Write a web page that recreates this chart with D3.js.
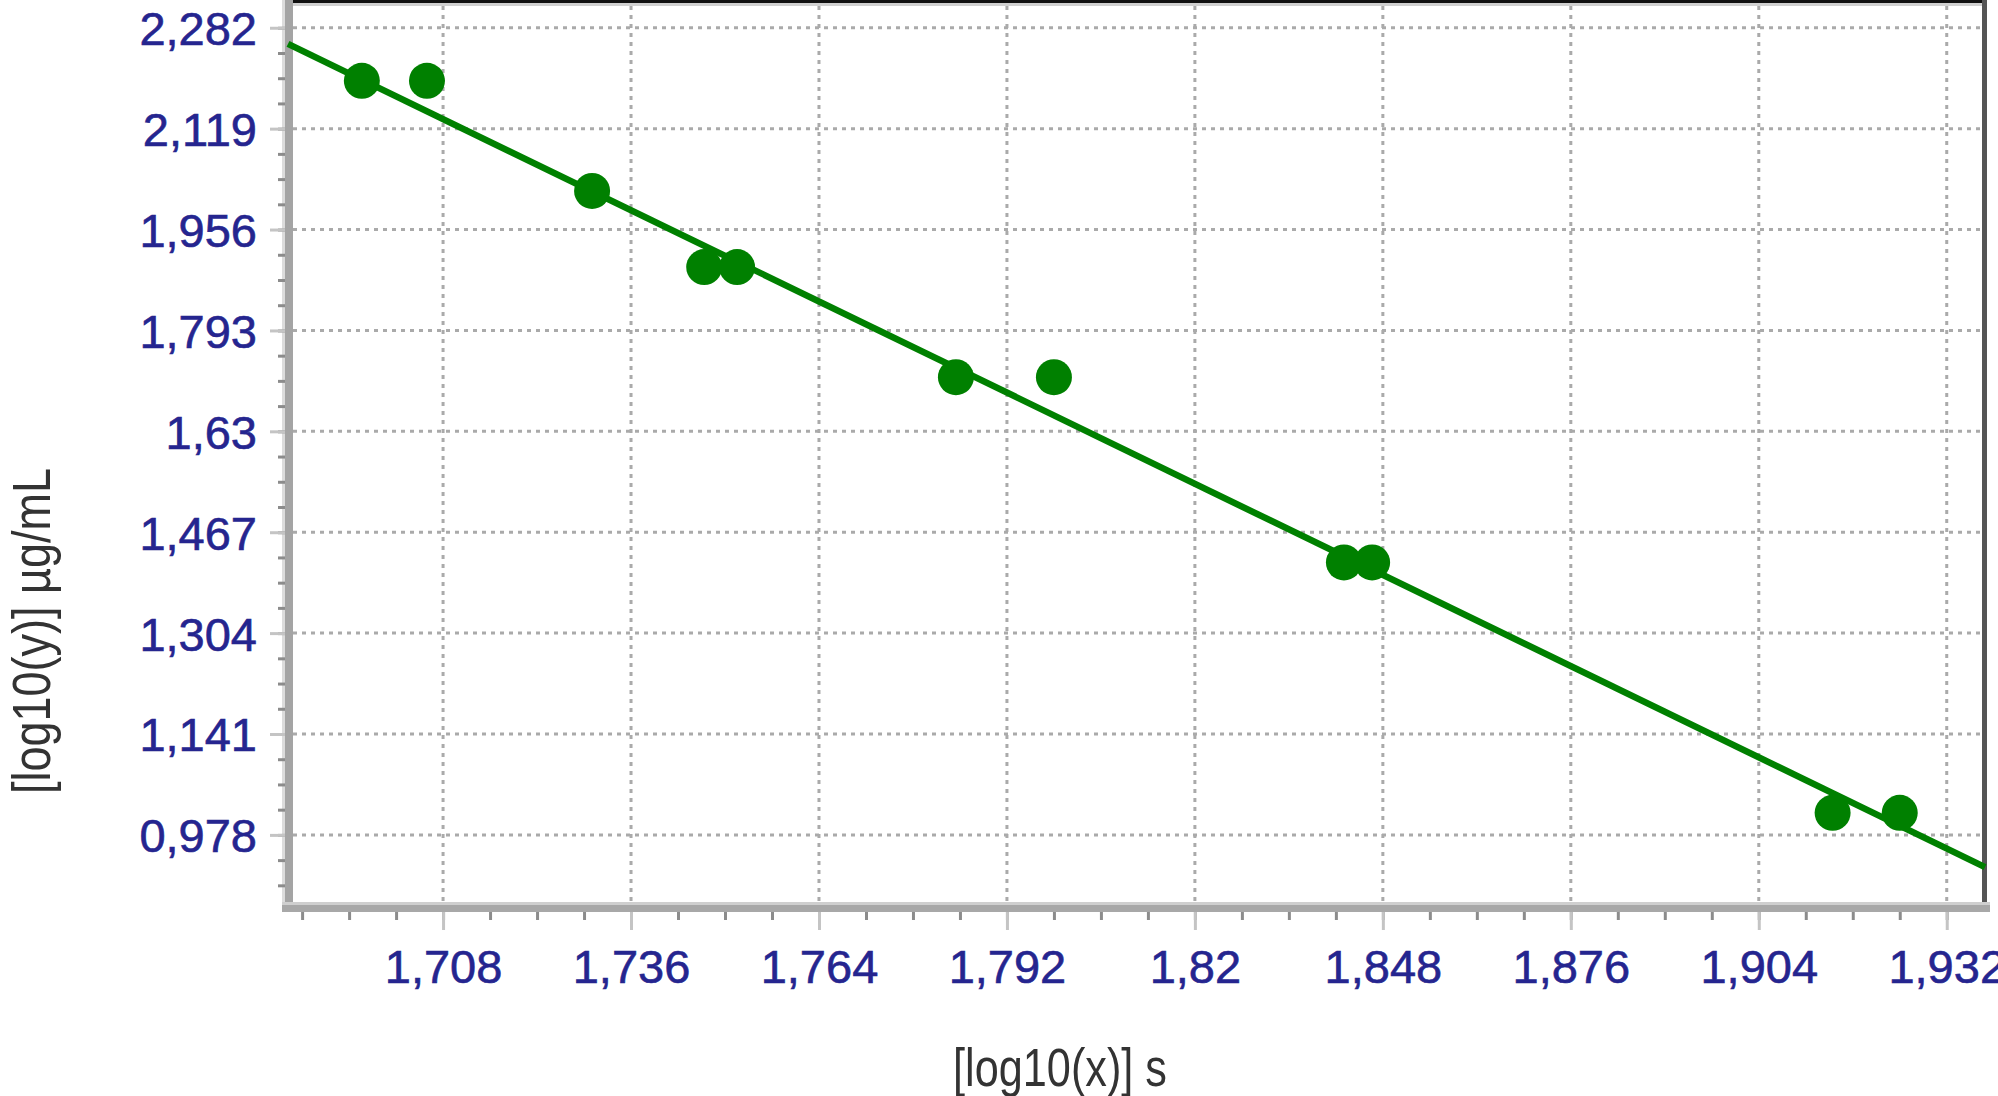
<!DOCTYPE html>
<html>
<head>
<meta charset="utf-8">
<script src="https://cdn.jsdelivr.net/npm/d3@7"></script>
<style>
  body { margin: 0; background: #fff; }
  svg { display: block; }
  .tickLabel text { font-family: 'Liberation Sans', Arial, sans-serif; font-size: 47px; fill: #25258f; }
  .axisTitle { font-family: 'Liberation Sans', Arial, sans-serif; font-size: 54px; fill: #333; }
</style>
</head>
<body>
<svg id="chart" width="1998" height="1096"></svg>
<script>
'use strict';

// axis ranges and ticks
const xDomain = [1.6849, 1.9377];
const yDomain = [0.8615, 2.322];
const xTicks = [1.708, 1.736, 1.764, 1.792, 1.82, 1.848, 1.876, 1.904, 1.932];
const xTickLabels = ['1,708', '1,736', '1,764', '1,792', '1,82', '1,848', '1,876', '1,904', '1,932'];
const yTicks = [0.978, 1.141, 1.304, 1.467, 1.63, 1.793, 1.956, 2.119, 2.282];
const yTickLabels = ['0,978', '1,141', '1,304', '1,467', '1,63', '1,793', '1,956', '2,119', '2,282'];

// measured points
const pointX = [1.6959, 1.7056, 1.7302, 1.7469, 1.7518, 1.7844, 1.7990, 1.8422, 1.8464, 1.9150, 1.9250];
const pointY = [2.1963, 2.1963, 2.0183, 1.8953, 1.8953, 1.7174, 1.7174, 1.4181, 1.4181, 1.0136, 1.0136];

// fitted line, its two ends at the edges of the plot
const fitX = [1.6849, 1.9377];
const fitY = [2.256, 0.926];

const green = '#008000';

const svg = d3.select('#chart');
const x = d3.scaleLinear().domain(xDomain).range([288, 1985]);
const y = d3.scaleLinear().domain(yDomain).range([907, 3]);

// minor ticks: 4 steps between each pair of major ticks
const xStep = (xTicks[1] - xTicks[0]) / 4;
const yStep = (yTicks[1] - yTicks[0]) / 4;
const xMinor = d3.range(-3, 40).map(k => xTicks[0] + k * xStep).filter(v => v > xDomain[0] && v < xDomain[1]);
const yMinor = d3.range(-2, 40).map(k => yTicks[0] + k * yStep).filter(v => v > yDomain[0] && v < yDomain[1]);

// dotted grid
svg.append('g').selectAll('line.vgrid')
  .data(xTicks)
  .join('line')
  .attr('class', 'vgrid')
  .attr('x1', d => x(d)).attr('x2', d => x(d))
  .attr('y1', 6).attr('y2', 902)
  .attr('stroke', '#aaa')
  .attr('stroke-width', 3)
  .attr('stroke-dasharray', '4,5');
svg.append('g').selectAll('line.hgrid')
  .data(yTicks)
  .join('line')
  .attr('class', 'hgrid')
  .attr('x1', 293).attr('x2', 1982)
  .attr('y1', d => y(d)).attr('y2', d => y(d))
  .attr('stroke', '#aaa')
  .attr('stroke-width', 3)
  .attr('stroke-dasharray', '4,5');

// frame: top, right, and the thick grey axis bands
svg.append('rect').attr('x', 293).attr('y', 0).attr('width', 1694).attr('height', 3).attr('fill', '#111');
svg.append('rect').attr('x', 293).attr('y', 3).attr('width', 1689).attr('height', 3).attr('fill', '#d0d0d0');
svg.append('rect').attr('x', 1982).attr('y', 0).attr('width', 5).attr('height', 905).attr('fill', '#555');
svg.append('rect').attr('x', 282).attr('y', 0).attr('width', 3).attr('height', 912).attr('fill', '#dcdcdc');
svg.append('rect').attr('x', 285).attr('y', 0).attr('width', 8).attr('height', 912).attr('fill', '#a4a4a4');
svg.append('rect').attr('x', 282).attr('y', 902).attr('width', 1708).attr('height', 3).attr('fill', '#cfcfcf');
svg.append('rect').attr('x', 282).attr('y', 905).attr('width', 1708).attr('height', 7).attr('fill', '#a8a8a8');

// x axis: minor ticks, then major ticks with labels
const xMinorG = svg.append('g')
  .attr('transform', 'translate(0,912)')
  .call(d3.axisBottom(x).tickValues(xMinor).tickSize(8).tickFormat(''));
const xMajorG = svg.append('g')
  .attr('class', 'tickLabel')
  .attr('transform', 'translate(0,912)')
  .call(d3.axisBottom(x).tickValues(xTicks).tickSize(18).tickPadding(20)
    .tickFormat((d, i) => xTickLabels[i]));

// y axis
const yMinorG = svg.append('g')
  .attr('transform', 'translate(285,0)')
  .call(d3.axisLeft(y).tickValues(yMinor).tickSize(7).tickFormat(''));
const yMajorG = svg.append('g')
  .attr('class', 'tickLabel')
  .attr('transform', 'translate(285,0)')
  .call(d3.axisLeft(y).tickValues(yTicks).tickSize(15).tickPadding(13)
    .tickFormat((d, i) => yTickLabels[i]));
yMajorG.selectAll('text').attr('dy', '0.36em');

// restyle the axes: no domain path, grey ticks
[xMinorG, xMajorG, yMinorG, yMajorG].forEach(g => g.select('.domain').remove());
[xMinorG, yMinorG].forEach(g => g.selectAll('line').attr('stroke', '#8c8c8c').attr('stroke-width', 3));
[xMajorG, yMajorG].forEach(g => g.selectAll('line').attr('stroke', '#c4c4c4').attr('stroke-width', 3));
[xMajorG, yMajorG].forEach(g => g.selectAll('text')
  .attr('fill', '#25258f').attr('stroke', '#25258f').attr('stroke-width', 0.6));

// regression line
svg.append('path')
  .datum(d3.zip(fitX, fitY))
  .attr('d', d3.line().x(d => x(d[0])).y(d => y(d[1])))
  .attr('fill', 'none')
  .attr('stroke', green)
  .attr('stroke-width', 6.5);

// data points
svg.append('g').selectAll('circle')
  .data(d3.zip(pointX, pointY))
  .join('circle')
  .attr('cx', d => x(d[0]))
  .attr('cy', d => y(d[1]))
  .attr('r', 18)
  .attr('fill', green);

// axis titles
svg.append('text')
  .attr('class', 'axisTitle')
  .attr('x', 1060).attr('y', 1086)
  .attr('text-anchor', 'middle')
  .attr('textLength', 214)
  .attr('lengthAdjust', 'spacingAndGlyphs')
  .text('[log10(x)] s');
svg.append('text')
  .attr('class', 'axisTitle')
  .attr('transform', 'translate(50,631) rotate(-90)')
  .attr('text-anchor', 'middle')
  .attr('textLength', 326)
  .attr('lengthAdjust', 'spacingAndGlyphs')
  .text('[log10(y)] µg/mL');
</script>
</body>
</html>
